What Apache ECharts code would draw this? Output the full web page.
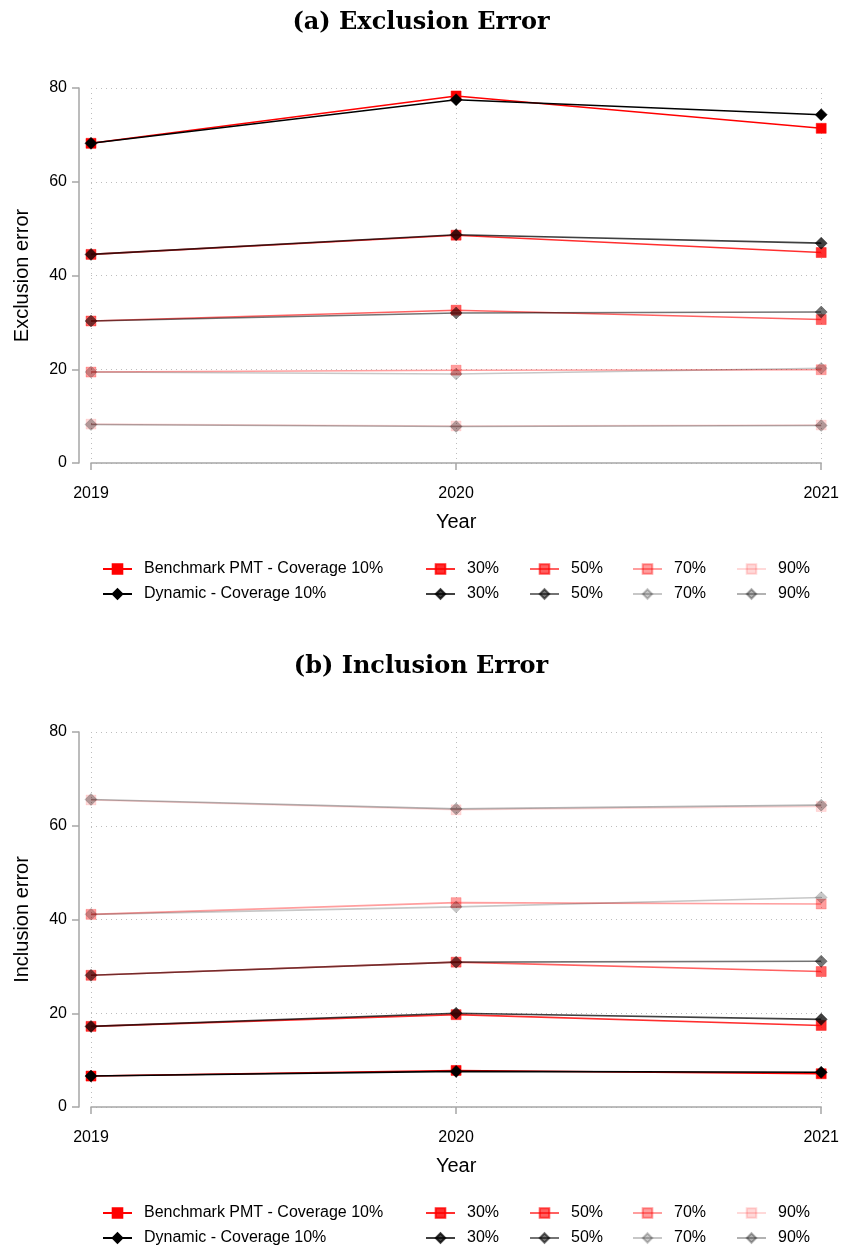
<!DOCTYPE html>
<html>
<head>
<meta charset="utf-8">
<script src="https://cdn.jsdelivr.net/npm/echarts@6/dist/echarts.min.js"></script>
<style>
html,body{margin:0;padding:0;background:#fff;}
#chart{width:842px;height:1249px;}
</style>
</head>
<body>
<div id="chart"></div>
<script>
// ---- data ----
const years = [2019, 2020, 2021];
const yTicks = [0, 20, 40, 60, 80];
const coverages = ['10%', '30%', '50%', '70%', '90%'];

// (a) Exclusion error
const exclBench10 = [68.2, 78.3, 71.4];
const exclBench30 = [44.5, 48.6, 44.9];
const exclBench50 = [30.3, 32.6, 30.6];
const exclBench70 = [19.4, 19.8, 19.9];
const exclBench90 = [8.3, 7.9, 8.1];
const exclDyn10 = [68.2, 77.5, 74.3];
const exclDyn30 = [44.5, 48.7, 46.9];
const exclDyn50 = [30.3, 32.0, 32.2];
const exclDyn70 = [19.4, 19.0, 20.2];
const exclDyn90 = [8.2, 7.8, 8.0];

// (b) Inclusion error
const inclBench10 = [6.6, 7.8, 7.1];
const inclBench30 = [17.2, 19.7, 17.4];
const inclBench50 = [28.1, 30.9, 28.9];
const inclBench70 = [41.1, 43.6, 43.3];
const inclBench90 = [65.5, 63.4, 64.1];
const inclDyn10 = [6.6, 7.6, 7.4];
const inclDyn30 = [17.2, 20.0, 18.7];
const inclDyn50 = [28.1, 30.9, 31.1];
const inclDyn70 = [41.1, 42.7, 44.7];
const inclDyn90 = [65.6, 63.6, 64.4];

const titles = ['(a) Exclusion Error', '(b) Inclusion Error'];
const yNames = ['Exclusion error', 'Inclusion error'];
const xName = 'Year';

// ---- styles ----
const benchAlpha = [1, 0.82, 0.62, 0.38, 0.15];
const dynAlpha = [1, 0.75, 0.55, 0.22, 0.3];
const SANS = '"Liberation Sans", Arial, Helvetica, sans-serif';
const PANEL_OFFSET = 644;

function names(cov, i, pi) {
  const tag = pi === 0 ? '' : ' ';
  if (i === 0) return ['Benchmark PMT - Coverage ' + cov + tag, 'Dynamic - Coverage ' + cov + tag];
  return ['Benchmark ' + cov + tag, 'Dynamic ' + cov + tag];
}

const panels = [
  {bench: [exclBench10, exclBench30, exclBench50, exclBench70, exclBench90],
   dyn: [exclDyn10, exclDyn30, exclDyn50, exclDyn70, exclDyn90]},
  {bench: [inclBench10, inclBench30, inclBench50, inclBench70, inclBench90],
   dyn: [inclDyn10, inclDyn30, inclDyn50, inclDyn70, inclDyn90]}
];

const grid = [], xAxis = [], yAxis = [], series = [], title = [], legend = [];
const legendLefts = [102, 425, 529, 632, 736];

panels.forEach((p, pi) => {
  const off = pi * PANEL_OFFSET;
  title.push({
    text: titles[pi], left: 'center', top: 6 + off,
    textStyle: {fontFamily: '"DejaVu Serif", "Liberation Serif", serif', fontWeight: 'bold', fontSize: 24, color: '#000'}
  });
  grid.push({left: 91, right: 19, top: 88 + off, height: 375});
  xAxis.push({
    type: 'value', gridIndex: pi, min: 2019, max: 2021, interval: 1, offset: 13,
    name: xName, nameLocation: 'middle', nameGap: 36,
    nameTextStyle: {fontFamily: SANS, fontSize: 20, color: '#000'},
    axisLine: {show: true, lineStyle: {color: '#a6a6a6', width: 1.5}},
    axisTick: {show: true, length: 7, lineStyle: {color: '#a6a6a6', width: 1.5}},
    axisLabel: {fontFamily: SANS, fontSize: 16, color: '#000', margin: 10, formatter: v => String(v)},
    splitLine: {show: true, lineStyle: {type: [1, 4], color: '#bdbdbd', width: 1}}
  });
  yAxis.push({
    type: 'value', gridIndex: pi, min: yTicks[0], max: yTicks[yTicks.length - 1], interval: 20, offset: 12,
    name: yNames[pi], nameLocation: 'middle', nameGap: 47, nameRotate: 90,
    nameTextStyle: {fontFamily: SANS, fontSize: 20, color: '#000'},
    axisLine: {show: true, lineStyle: {color: '#a6a6a6', width: 1.5}},
    axisTick: {show: true, length: 7, lineStyle: {color: '#a6a6a6', width: 1.5}},
    axisLabel: {fontFamily: SANS, fontSize: 16, color: '#000', margin: 12},
    splitLine: {show: true, lineStyle: {type: [1, 4], color: '#bdbdbd', width: 1}}
  });
  coverages.forEach((cov, i) => {
    const [bn, dn] = names(cov, i, pi);
    const rc = 'rgba(255,0,0,' + benchAlpha[i] + ')';
    const kc = 'rgba(0,0,0,' + dynAlpha[i] + ')';
    series.push({
      type: 'line', name: bn, xAxisIndex: pi, yAxisIndex: pi,
      data: years.map((y, k) => [y, p.bench[i][k]]),
      symbol: 'rect', symbolSize: 10, showAllSymbol: true,
      lineStyle: {color: rc, width: 1.6},
      itemStyle: {color: rc, borderColor: rc, borderWidth: 0.5},
      emphasis: {disabled: true}, animation: false
    });
    series.push({
      type: 'line', name: dn, xAxisIndex: pi, yAxisIndex: pi,
      data: years.map((y, k) => [y, p.dyn[i][k]]),
      symbol: 'diamond', symbolSize: [12, 12], showAllSymbol: true,
      lineStyle: {color: kc, width: 1.6},
      itemStyle: {color: kc, borderColor: kc, borderWidth: 0.5},
      emphasis: {disabled: true}, animation: false
    });
  });
  coverages.forEach((cov, i) => {
    legend.push({
      orient: 'vertical', left: legendLefts[i], top: 561 + off, height: 60,
      padding: 0,
      itemWidth: 29, itemHeight: 12, itemGap: 9,
      selectedMode: false,
      data: names(cov, i, pi),
      formatter: n => (n.indexOf('Coverage') >= 0 ? n.trim() : n.trim().split(' ').pop()),
      textStyle: {fontFamily: SANS, fontSize: 16, lineHeight: 14, color: '#000', padding: [0, 0, 0, 7]}
    });
  });
});

const chart = echarts.init(document.getElementById('chart'), null, {renderer: 'canvas'});
chart.setOption({
  backgroundColor: '#fff',
  animation: false,
  title, grid, xAxis, yAxis, legend, series
});
</script>
</body>
</html>
